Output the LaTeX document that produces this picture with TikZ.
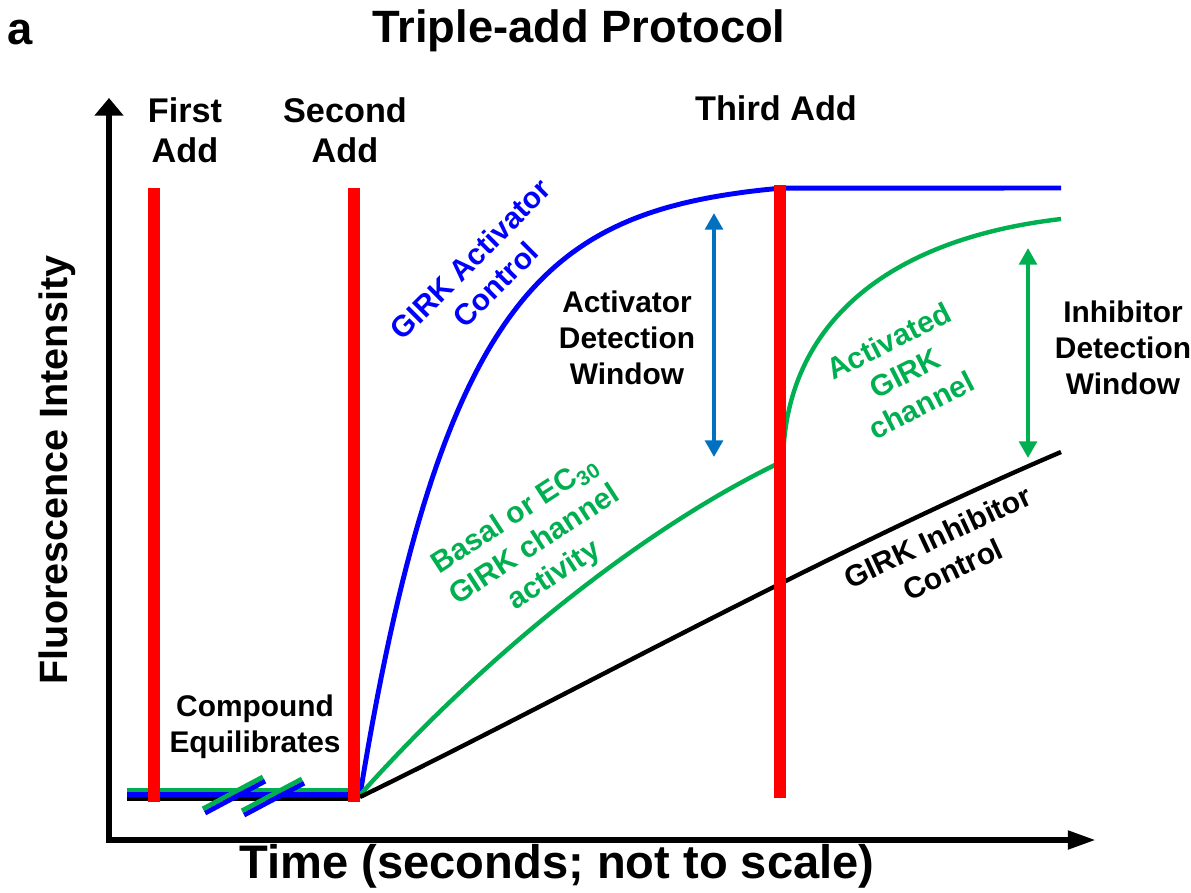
\documentclass[tikz,border=0pt]{standalone}
\usepackage{fontspec}
\setmainfont{Liberation Sans}
\usetikzlibrary{arrows.meta, positioning}
\definecolor{girkblue}{HTML}{0000FF}
\definecolor{addred}{HTML}{FF0000}
\definecolor{girkgreen}{HTML}{00B050}
\definecolor{winblue}{HTML}{0070C0}

\begin{document}
\begin{tikzpicture}[x=0.02cm, y=-0.02cm,
  lbl/.style={font=\fontsize{17}{20.5}\selectfont\bfseries, align=center, inner sep=0pt},
  addlbl/.style={font=\fontsize{19.5}{22.7}\selectfont\bfseries, align=center, inner sep=0pt},
  biglbl/.style={font=\fontsize{25.8}{30}\selectfont\bfseries, inner sep=0pt},
  addbar/.style={addred, line width=6.8pt},
  trace/.style={line width=2.5pt},
  axis/.style={line width=3.4pt},
  window/.style={line width=2.8pt, {Triangle[length=9.5pt,width=10pt]}-{Triangle[length=9.5pt,width=10pt]}},
]
\useasboundingbox (0,0) rectangle (1191,893);

% axes
\coordinate (origin) at (109,840);
\coordinate (ytop) at (109,98);
\coordinate (xend) at (1096,840);
\draw[axis, {Triangle[length=10pt,width=16pt]}-{Triangle[length=16pt,width=10pt]}] (ytop) -- (origin) -- (xend);

% baseline before second add
\draw[girkgreen, line width=2.5pt] (127,790) -- (360,790);
\draw[girkblue, line width=2.5pt] (127,794.5) -- (360,794.5);
\draw[black, line width=2.5pt] (127,799) -- (360,799);
\foreach \bx/\by in {234/795, 273/797} {
  \begin{scope}[shift={(\bx,\by)}, rotate=28]
    \draw[girkgreen, line width=2.7pt] (-34,-2.4) -- (34,-2.4);
    \draw[girkblue, line width=2.7pt] (-34,2.4) -- (34,2.4);
  \end{scope}
}

% traces
\draw[girkblue, line width=2.8pt] plot[domain=0:420, samples=100] ({360+\x}, {795-616*(1-exp(-\x/100))}) -- (1061,188);
\draw[girkgreen, trace] (360,795) .. controls (480,660) and (640,530) .. (779,463);
\draw[girkgreen, trace] (783,465) .. controls (783,330) and (880,240) .. (1061,219);
\draw[black, trace] (360,797) .. controls (560,700) and (820,555) .. (1061,452);

% additions
\draw[addbar] (154,188) -- (154,802);
\draw[addbar] (354,188) -- (354,802);
\draw[addbar] (780,185) -- (780,798);

% detection windows
\coordinate (actTop) at (714,213);
\coordinate (actBot) at (714,457);
\coordinate (inhTop) at (1028,248);
\coordinate (inhBot) at (1028,458);
\draw[window, winblue] (actTop) -- (actBot);
\draw[window, girkgreen] (inhTop) -- (inhBot);

% labels
\node[biglbl] (panel) at (20,33) {a};
\node[biglbl] (title) at (579,31) {Triple-add Protocol};
\node[addlbl] (firstadd) at (185,130) {First\\Add};
\node[addlbl] (secondadd) at (345,130) {Second\\Add};
\node[addlbl] (thirdadd) at (776,108) {Third Add};
\node[lbl] (actwin) at (627,338) {Activator\\Detection\\Window};
\node[lbl] (inhwin) at (1123,348) {Inhibitor\\Detection\\Window};
\node[lbl] (equil) at (255,727) {Compound\\Equilibrates};
\node[lbl, girkblue, rotate=45] (actctl) at (483,272) {GIRK Activator\\Control};
\node[lbl, girkgreen, rotate=33] (basal) at (535,546) {Basal or EC\textsubscript{30}\\GIRK channel\\activity};
\node[lbl, girkgreen, rotate=27] (activated) at (905,373) {Activated\\GIRK\\channel};
\node[lbl, rotate=25] (inhctl) at (945,553) {GIRK Inhibitor\\Control};
\node[biglbl, font=\fontsize{26.8}{30}\selectfont\bfseries] (xlabel) at (557,866) {Time (seconds; not to scale)};
\node[biglbl, font=\fontsize{22.5}{27}\selectfont\bfseries, rotate=90] (ylabel) at (57,470) {Fluorescence Intensity};
\end{tikzpicture}
\end{document}
